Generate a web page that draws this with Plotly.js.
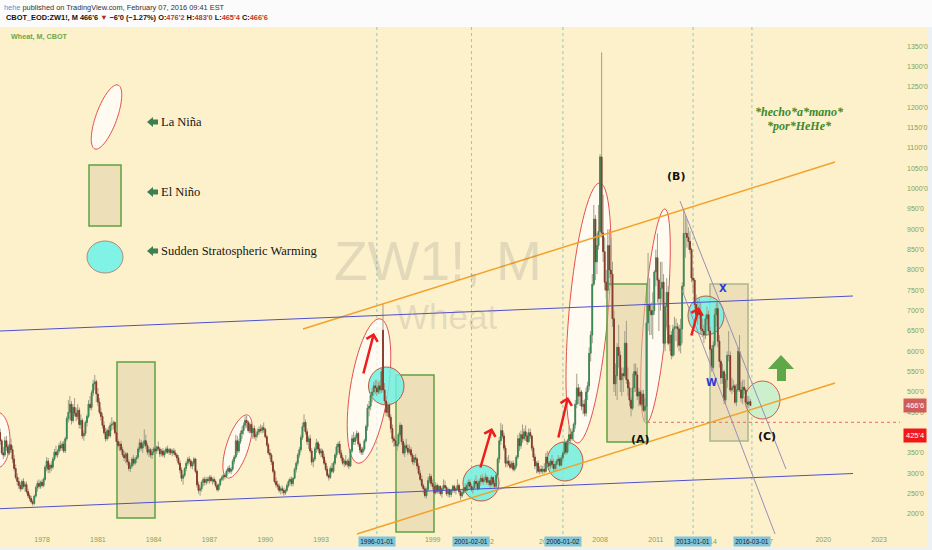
<!DOCTYPE html>
<html>
<head>
<meta charset="utf-8">
<script src="https://cdn.plot.ly/plotly-3.0.1.min.js"></script>
<style>
html,body{margin:0;padding:0;background:#fbfbfb;}
#chart{width:932px;height:550px;}
</style>
</head>
<body>
<div id="chart"></div>
<script>
// ---------------- DATA (monthly CBOT wheat, cents/bu) ----------------
const startYear = 1975;
const startMonth = 10;

const open = [
/*1975*/ 400,380,350,
/*1976*/ 345,380,365,350,370,358,335,312,290,280,270,262,
/*1977*/ 280,268,272,255,245,238,230,226,244,265,275,268,
/*1978*/ 278,270,285,315,330,310,320,315,335,352,345,355,
/*1979*/ 368,362,372,355,385,435,450,470,430,462,448,440,
/*1980*/ 455,420,430,392,398,425,440,470,462,498,520,525,
/*1981*/ 495,475,450,440,418,400,385,405,392,418,420,425,
/*1982*/ 400,378,368,372,358,345,338,348,328,312,318,335,
/*1983*/ 325,335,340,360,375,362,372,380,368,352,358,345,
/*1984*/ 352,360,355,365,360,348,355,345,352,360,352,358,
/*1985*/ 350,355,350,345,338,325,308,288,295,312,325,335,
/*1986*/ 330,318,325,335,305,272,258,262,278,285,278,285,
/*1987*/ 282,290,282,285,280,270,260,272,285,290,295,292,
/*1988*/ 305,312,305,310,330,340,380,355,378,398,405,418,
/*1989*/ 430,425,405,420,400,410,390,395,402,408,405,412,
/*1990*/ 408,390,370,350,345,328,305,280,272,268,258,262,
/*1991*/ 258,252,258,270,280,285,275,288,310,325,345,358,
/*1992*/ 388,415,425,402,378,385,355,328,335,360,375,360,
/*1993*/ 350,355,340,325,310,295,290,312,305,325,345,365,
/*1994*/ 372,350,338,325,330,322,330,318,355,385,378,388,
/*1995*/ 398,372,358,352,360,380,415,460,465,492,500,515,
/*1996*/ 510,500,515,505,652,505,478,450,468,438,410,385,
/*1997*/ 380,368,372,395,418,378,350,368,362,352,358,345,
/*1998*/ 328,338,335,318,300,285,270,262,245,260,282,292,
/*1999*/ 275,268,252,270,256,268,250,262,270,265,250,260,
/*2000*/ 248,258,268,258,262,270,255,245,252,265,258,270,
/*2001*/ 278,268,260,265,280,275,262,280,288,280,285,290,
/*2002*/ 278,282,272,290,275,268,295,335,380,405,392,362,
/*2003*/ 325,330,322,315,325,310,318,340,385,368,395,385,
/*2004*/ 402,392,378,400,392,362,340,318,325,305,310,305,
/*2005*/ 310,305,340,325,318,330,322,312,322,330,335,320,
/*2006*/ 338,350,375,352,380,395,385,402,420,470,510,490,
/*2007*/ 500,465,470,448,500,515,595,640,765,925,820,860,
/*2008*/ 895,1078,891,845,770,750,860,800,790,680,520,540,
/*2009*/ 610,590,530,545,540,620,530,510,480,460,510,550,
/*2010*/ 542,490,500,470,495,455,465,670,715,700,690,700,
/*2011*/ 795,830,775,730,755,770,620,710,745,620,640,590,
/*2012*/ 655,660,660,655,615,655,760,890,890,880,870,850,
/*2013*/ 780,775,715,690,700,690,655,650,640,680,690,650,
/*2014*/ 605,560,615,690,705,625,575,535,550,480,530,590,
/*2015*/ 590,505,510,515,475,505,600,505,485,512,505,475,
/*2016*/ 470,476.25
];
const high = [
/*1975*/ 410,385,365,
/*1976*/ 390,392,372,378,385,368,345,322,300,290,278,285,
/*1977*/ 288,278,280,262,252,245,236,248,270,282,285,282,
/*1978*/ 285,290,320,340,338,325,330,340,360,368,360,375,
/*1979*/ 380,378,380,390,440,480,490,478,470,485,462,470,
/*1980*/ 462,445,435,405,430,445,480,490,505,530,542,530,
/*1981*/ 510,485,462,448,428,412,410,415,425,438,430,428,
/*1982*/ 405,385,378,380,365,355,352,352,335,325,340,345,
/*1983*/ 340,345,365,385,382,378,408,395,375,365,362,360,
/*1984*/ 365,372,368,378,365,360,362,358,365,368,362,362,
/*1985*/ 360,362,358,350,345,332,315,300,315,330,340,342,
/*1986*/ 335,330,340,338,310,280,268,282,290,292,290,292,
/*1987*/ 295,296,290,292,285,275,275,288,295,300,300,310,
/*1988*/ 318,320,315,335,345,395,392,385,405,415,425,440,
/*1989*/ 442,430,425,428,415,418,405,410,415,420,418,425,
/*1990*/ 412,395,375,360,350,332,310,290,282,275,268,270,
/*1991*/ 265,262,275,285,290,292,290,315,330,350,365,395,
/*1992*/ 425,445,432,410,392,395,362,340,365,385,380,372,
/*1993*/ 362,360,348,332,318,300,318,325,330,350,372,378,
/*1994*/ 380,358,345,335,345,335,338,360,395,402,395,405,
/*1995*/ 402,378,365,365,385,420,470,478,500,510,525,530,
/*1996*/ 530,525,528,560,716,522,490,475,472,445,420,392,
/*1997*/ 392,378,400,425,420,385,375,385,372,370,365,350,
/*1998*/ 345,348,340,325,308,295,275,268,265,290,300,298,
/*1999*/ 285,272,278,275,272,270,265,285,282,270,265,262,
/*2000*/ 262,272,272,265,285,275,262,258,270,275,275,285,
/*2001*/ 285,275,270,285,295,282,285,295,298,292,300,295,
/*2002*/ 290,288,295,292,285,300,340,390,424,420,400,370,
/*2003*/ 340,345,332,330,332,325,345,395,400,405,420,410,
/*2004*/ 418,400,410,410,395,368,348,330,332,318,320,318,
/*2005*/ 325,350,355,330,335,345,335,330,335,345,340,345,
/*2006*/ 355,385,380,385,415,410,410,425,480,545,520,512,
/*2007*/ 505,480,482,510,525,610,650,790,960,935,890,960,
/*2008*/ 1085,1335,985,880,800,900,900,880,820,700,570,620,
/*2009*/ 665,600,560,560,650,675,560,525,488,545,570,570,
/*2010*/ 560,510,505,505,505,485,685,842,780,720,745,800,
/*2011*/ 850,890,780,820,820,790,720,780,760,665,650,665,
/*2012*/ 685,680,670,665,680,770,947,935,925,905,895,855,
/*2013*/ 805,780,740,725,730,720,680,665,690,710,700,660,
/*2014*/ 615,625,705,720,725,640,580,570,555,545,600,650,
/*2015*/ 600,535,530,520,520,610,640,525,530,530,510,490,
/*2016*/ 490,483
];
const low = [
/*1975*/ 370,345,335,
/*1976*/ 340,355,345,345,350,325,305,285,270,262,255,258,
/*1977*/ 262,255,250,240,232,226,220,222,240,255,262,262,
/*1978*/ 265,266,282,305,300,300,305,310,330,340,338,350,
/*1979*/ 355,355,350,350,380,425,430,420,425,440,428,432,
/*1980*/ 410,410,385,380,392,415,435,455,455,490,505,475,
/*1981*/ 465,445,430,410,395,378,380,385,388,405,408,395,
/*1982*/ 370,360,355,352,340,330,325,320,305,303,312,318,
/*1983*/ 320,325,335,352,355,350,365,360,345,340,338,335,
/*1984*/ 345,350,348,355,340,342,340,338,348,348,345,345,
/*1985*/ 342,345,340,330,320,300,280,272,290,305,318,322,
/*1986*/ 312,310,318,300,265,250,245,255,268,270,272,275,
/*1987*/ 275,278,272,275,265,255,256,268,280,282,285,290,
/*1988*/ 298,300,298,305,322,335,345,350,372,385,395,410,
/*1989*/ 412,400,398,395,385,385,380,388,395,400,398,400,
/*1990*/ 385,365,345,335,320,300,275,265,260,252,248,250,
/*1991*/ 245,247,255,265,270,268,268,285,302,318,338,352,
/*1992*/ 382,405,395,370,360,350,320,315,330,350,355,345,
/*1993*/ 340,335,320,305,290,282,286,300,300,320,338,350,
/*1994*/ 345,330,320,315,318,315,310,315,350,370,370,380,
/*1995*/ 365,350,345,345,355,375,405,440,455,475,490,495,
/*1996*/ 490,495,495,498,498,470,440,440,430,400,375,365,
/*1997*/ 360,355,365,388,370,345,340,355,345,348,340,322,
/*1998*/ 320,325,310,295,280,265,250,240,238,255,275,268,
/*1999*/ 260,245,248,250,250,245,240,258,260,245,242,240,
/*2000*/ 242,252,252,248,258,250,235,240,248,255,255,262,
/*2001*/ 262,255,250,262,270,258,260,270,275,272,278,272,
/*2002*/ 270,265,268,268,262,265,290,325,370,385,355,315,
/*2003*/ 315,318,310,312,305,305,312,335,355,360,375,380,
/*2004*/ 380,370,375,385,355,330,310,300,300,298,300,298,
/*2005*/ 300,302,320,310,310,315,305,305,310,320,315,318,
/*2006*/ 330,345,345,348,370,375,380,385,410,460,470,465,
/*2007*/ 455,445,440,440,480,505,575,620,760,775,790,850,
/*2008*/ 880,880,820,750,730,740,780,760,660,500,490,480,
/*2009*/ 560,500,490,500,535,520,490,465,440,455,500,500,
/*2010*/ 480,465,465,465,450,428,460,650,640,640,630,690,
/*2011*/ 760,720,650,700,720,600,600,660,615,600,580,585,
/*2012*/ 590,625,610,600,595,620,740,830,855,850,840,770,
/*2013*/ 745,705,680,665,680,645,635,620,630,665,640,595,
/*2014*/ 550,555,610,660,610,560,520,520,470,470,510,575,
/*2015*/ 500,495,500,470,465,500,500,475,470,495,465,460,
/*2016*/ 460,465.5
];
const close = [
/*1975*/ 380,350,345,
/*1976*/ 380,365,350,370,358,335,312,290,280,270,262,280,
/*1977*/ 268,272,255,245,238,230,226,244,265,275,268,278,
/*1978*/ 270,285,315,330,310,320,315,335,352,345,355,368,
/*1979*/ 362,372,355,385,435,450,470,430,462,448,440,455,
/*1980*/ 420,430,392,398,425,440,470,462,498,520,525,495,
/*1981*/ 475,450,440,418,400,385,405,392,418,420,425,400,
/*1982*/ 378,368,372,358,345,338,348,328,312,318,335,325,
/*1983*/ 335,340,360,375,362,372,380,368,352,358,345,352,
/*1984*/ 360,355,365,360,348,355,345,352,360,352,358,350,
/*1985*/ 355,350,345,338,325,308,288,295,312,325,335,330,
/*1986*/ 318,325,335,305,272,258,262,278,285,278,285,282,
/*1987*/ 290,282,285,280,270,260,272,285,290,295,292,305,
/*1988*/ 312,305,310,330,340,380,355,378,398,405,418,430,
/*1989*/ 425,405,420,400,410,390,395,402,408,405,412,408,
/*1990*/ 390,370,350,345,328,305,280,272,268,258,262,258,
/*1991*/ 252,258,270,280,285,275,288,310,325,345,358,388,
/*1992*/ 415,425,402,378,385,355,328,335,360,375,360,350,
/*1993*/ 355,340,325,310,295,290,312,305,325,345,365,372,
/*1994*/ 350,338,325,330,322,330,318,355,385,378,388,398,
/*1995*/ 372,358,352,360,380,415,460,465,492,500,515,510,
/*1996*/ 500,515,505,550,505,478,450,468,438,410,385,380,
/*1997*/ 368,372,395,418,378,350,368,362,352,358,345,328,
/*1998*/ 338,335,318,300,285,270,262,245,260,282,292,275,
/*1999*/ 268,252,270,256,268,250,262,270,265,250,260,248,
/*2000*/ 258,268,258,262,270,255,245,252,265,258,270,278,
/*2001*/ 268,260,265,280,275,262,280,288,280,285,290,278,
/*2002*/ 282,272,290,275,268,295,335,380,405,392,362,325,
/*2003*/ 330,322,315,325,310,318,340,385,368,395,385,402,
/*2004*/ 392,378,400,392,362,340,318,325,305,310,305,310,
/*2005*/ 305,340,325,318,330,322,312,322,330,335,320,338,
/*2006*/ 350,375,352,380,395,385,402,420,470,510,490,500,
/*2007*/ 465,470,448,500,515,595,640,765,925,820,860,895,
/*2008*/ 1078,891,845,770,750,860,800,790,680,520,540,610,
/*2009*/ 590,530,545,540,620,530,510,480,460,510,550,542,
/*2010*/ 490,500,470,495,455,465,670,715,700,690,700,795,
/*2011*/ 830,775,730,755,770,620,710,745,620,640,590,655,
/*2012*/ 660,660,655,615,655,760,890,890,880,870,850,780,
/*2013*/ 775,715,690,700,690,655,650,640,680,690,650,605,
/*2014*/ 560,615,690,705,625,575,535,550,480,530,590,590,
/*2015*/ 505,510,515,475,505,600,505,485,512,505,475,470,
/*2016*/ 476.25,466.75
];

// time-axis labels: full year labels, and the visible remnants of labels
// that sit under the highlighted date boxes
const xTickYears = [1978,1981,1984,1987,1990,1993,1999,2008,2011,2020,2023];
const partialTicks = [
  {year: 2002, text: '02', side: 'right'},
  {year: 2005, text: '20', side: 'left'},
  {year: 2014, text: '14', side: 'right'},
  {year: 2017, text: '7', side: 'right'}
];
const yTickPrices = [200,250,300,350,450,500,550,600,650,700,750,800,850,900,950,1000,1050,1100,1150,1200,1250,1300,1350];
const markerDates = ['1996-01-01','2001-02-01','2006-01-02','2013-01-01','2016-03-01'];
const legendLabels = ['La Niña','El Niño','Sudden Stratospheric Warming'];
const lastPrice = 466.75, lastLabel = "466'6";
const levelPrice = 425.5, levelLabel = "425'4";

// ---------------- build ----------------
const dates = close.map((_, i) => {
  const m0 = startMonth - 1 + i;
  const y = startYear + Math.floor(m0 / 12);
  const m = (m0 % 12) + 1;
  return y + '-' + String(m).padStart(2, '0') + '-01';
});
const bodyHigh = open.map((o, i) => Math.max(o, close[i]));
const bodyLow = open.map((o, i) => Math.min(o, close[i]));

const UP = '#3a8a58', DN = '#8a3a2a', WICK = '#a19d88';
const BG = '#fdf1cb';
const AXIS_TXT = '#7ea35f';

const wicks = {
  type: 'candlestick', x: dates, open: open, high: high, low: low, close: close,
  increasing: {line: {color: WICK, width: 1}, fillcolor: WICK},
  decreasing: {line: {color: WICK, width: 1}, fillcolor: WICK},
  whiskerwidth: 0, hoverinfo: 'skip', showlegend: false
};
const bodies = {
  type: 'candlestick', x: dates, open: open, high: bodyHigh, low: bodyLow, close: close,
  increasing: {line: {color: UP, width: 1}, fillcolor: UP},
  decreasing: {line: {color: DN, width: 1}, fillcolor: DN},
  whiskerwidth: 0, hoverinfo: 'skip', showlegend: false
};

// pixel -> paper helpers for the hand-drawn overlay
const PW = 900, PB = 534, PH = 507;
const X = px => px / PW;
const Y = py => (PB - py) / PH;
// date position (for text near year ticks): 18.6 px per year, 1978 at 42 px
const yearPx = yr => 42 + (yr - 1978) * 18.6;

function ellipsePath(cx, cy, a, b, deg) {
  const t = deg * Math.PI / 180, s = Math.sin(t), c = Math.cos(t);
  let d = '';
  for (let k = 0; k <= 60; k++) {
    const th = k / 60 * 2 * Math.PI;
    const u = b * Math.cos(th), v = a * Math.sin(th);
    const x = cx + u * c + v * s, y = cy + u * s - v * c;
    d += (k ? 'L' : 'M') + X(x).toFixed(5) + ',' + Y(y).toFixed(5);
  }
  return d + 'Z';
}
function polyPath(pts) {
  return pts.map((p, i) => (i ? 'L' : 'M') + X(p[0]).toFixed(5) + ',' + Y(p[1]).toFixed(5)).join('') + 'Z';
}
function leftArrow(yc) {
  return polyPath([[147, yc], [153, yc - 5], [153, yc - 2.5], [158, yc - 2.5], [158, yc + 2.5], [153, yc + 2.5], [153, yc + 5]]);
}

const shapes = [];
// frame pieces
shapes.push({type: 'rect', xref: 'paper', yref: 'paper', x0: -0.01, x1: 1.05, y0: 1, y1: 1.06, fillcolor: '#fbfbfb', line: {width: 0}, layer: 'below'});
shapes.push({type: 'rect', xref: 'paper', yref: 'paper', x0: -0.01, x1: 1.05, y0: Y(547.5), y1: Y(552), fillcolor: '#eef1f4', line: {width: 0}, layer: 'below'});
shapes.push({type: 'rect', xref: 'paper', yref: 'paper', x0: X(928), x1: 1.05, y0: Y(552), y1: 1, fillcolor: '#eef1f4', line: {width: 0}, layer: 'below'});

// vertical marker lines
markerDates.forEach(d => shapes.push({type: 'line', xref: 'x', yref: 'paper', x0: d, x1: d, y0: 0, y1: 1, line: {color: '#84ccd6', width: 1, dash: 'dot'}, layer: 'below'}));

// La Niña ellipses
const NINA_FILL = 'rgba(255,255,255,0.72)', NINA_LINE = '#e2524f';
[[106.5, 117, 34, 10.5, 20], [-3, 440, 28, 13, 0], [237.5, 446.5, 33, 11, 18], [369, 391, 73, 19, 8.7], [588.5, 313, 130.5, 19.5, 5], [655.5, 316, 107.5, 11.5, 5]]
  .forEach(e => shapes.push({type: 'path', xref: 'paper', yref: 'paper', path: ellipsePath(...e), fillcolor: NINA_FILL, line: {color: NINA_LINE, width: 1}, layer: 'below'}));

// El Niño boxes
[[89, 165, 121, 226, '#5da040'], [117, 362, 155, 518, '#5da040'], [396, 375, 434, 532, '#5da040'], [607, 284, 647, 442, '#5da040'], [710, 284, 748, 441, '#a9b58d']]
  .forEach(r => shapes.push({type: 'rect', xref: 'paper', yref: 'paper', x0: X(r[0]), x1: X(r[2]), y0: Y(r[3]), y1: Y(r[1]), fillcolor: 'rgba(222,208,165,0.5)', line: {color: r[4], width: 1.5}, layer: 'below'}));

// SSW circles
const SSW_FILL = 'rgba(112,240,228,0.85)', SSW_LINE = '#c0563f';
shapes.push({type: 'circle', xref: 'paper', yref: 'paper', x0: X(87), x1: X(123), y0: Y(273), y1: Y(241), fillcolor: '#80f3e6', line: {color: '#b08a78', width: 1}, layer: 'below'});
[[368.5, 367, 404, 405], [463, 465, 499, 501], [547, 442, 583, 481], [688, 296, 724, 335]]
  .forEach(c => shapes.push({type: 'circle', xref: 'paper', yref: 'paper', x0: X(c[0]), x1: X(c[2]), y0: Y(c[3]), y1: Y(c[1]), fillcolor: SSW_FILL, line: {color: SSW_LINE, width: 1}, layer: 'below'}));
shapes.push({type: 'circle', xref: 'paper', yref: 'paper', x0: X(745), x1: X(780), y0: Y(419), y1: Y(381), fillcolor: 'rgba(196,240,204,0.85)', line: {color: '#d05a48', width: 1}, layer: 'below'});

// trend lines
function seg(x0, y0, x1, y1, color, width, dash) {
  shapes.push({type: 'line', xref: 'paper', yref: 'paper', x0: X(x0), y0: Y(y0), x1: X(x1), y1: Y(y1), line: {color: color, width: width, dash: dash || 'solid'}, layer: 'above'});
}
seg(303, 329, 835, 162, '#f3a128', 1.5);
seg(357, 534, 835, 383, '#f3a128', 1.5);
seg(0, 331, 853, 296, '#4f4fd0', 1);
seg(0, 508.7, 853, 473.5, '#4f4fd0', 1);
seg(680, 201, 786, 469, '#9a8db8', 1);
seg(682, 290, 775, 534, '#9a8db8', 1);
shapes.push({type: 'line', xref: 'paper', yref: 'y', x0: X(647), x1: 1, y0: levelPrice, y1: levelPrice, line: {color: '#e06a66', width: 1, dash: 'dot'}, layer: 'above'});

// legend arrows and green up arrow
[122, 192, 251].forEach(yc => shapes.push({type: 'path', xref: 'paper', yref: 'paper', path: leftArrow(yc), fillcolor: '#3d7f50', line: {width: 0}, layer: 'above'}));
shapes.push({type: 'path', xref: 'paper', yref: 'paper', path: polyPath([[781, 355], [794, 369], [786, 369], [786, 381], [777, 381], [777, 369], [768, 369]]), fillcolor: '#5fa84a', line: {width: 0}, layer: 'above'});

// annotations
const ann = [];
function txt(text, px, py, opts) {
  ann.push(Object.assign({text: text, xref: 'paper', yref: 'paper', x: X(px), y: Y(py), showarrow: false, xanchor: 'center', yanchor: 'middle'}, opts || {}));
}
const RED = '#c0392b';
txt('<span style="color:#3d9ad8">hehe</span> published on TradingView.com, February 07, 2016 09:41 EST', 2, 7,
  {xanchor: 'left', font: {family: 'Liberation Sans', size: 7.4, color: '#333'}});
txt("<b>CBOT_EOD:ZW1!, M 466'6 <span style=\"color:#b3241c\">▼</span> −6'0 (−1.27%) O:<span style=\"color:" + RED + "\">476'2</span> H:<span style=\"color:" + RED + "\">483'0</span> L:<span style=\"color:" + RED + "\">465'4</span> C:<span style=\"color:" + RED + "\">466'6</span></b>", 4, 17.5,
  {xanchor: 'left', font: {family: 'Liberation Sans', size: 7.4, color: '#111'}});
txt('<b>Wheat, M, CBOT</b>', 9, 37, {xanchor: 'left', font: {family: 'Liberation Sans', size: 7.2, color: '#6aa84f'}});

// watermark
txt('ZW1!, M', 438, 261, {font: {family: 'Liberation Sans', size: 55, color: 'rgba(120,120,120,0.2)'}});
txt('Wheat', 446, 316, {font: {family: 'Liberation Sans', size: 35, color: 'rgba(120,120,120,0.2)'}});

// legend labels
[122, 192, 251].forEach((yc, i) => txt(legendLabels[i], 159, yc, {xanchor: 'left', font: {family: 'Liberation Serif', size: 12.5, color: '#151515'}}));

// wave labels
const waveFont = {family: 'DejaVu Sans', size: 11, color: '#111'};
txt('<b>(B)</b>', 676, 177, {font: waveFont});
txt('<b>(A)</b>', 640, 440, {font: waveFont});
txt('<b>(C)</b>', 767, 436, {font: waveFont});
txt('<b>X</b>', 723, 288, {font: {family: 'DejaVu Sans', size: 10, color: '#2b3bd6'}});
txt('<b>W</b>', 711, 382, {font: {family: 'DejaVu Sans', size: 10, color: '#2b3bd6'}});
txt('<b><i>*hecho*a*mano*</i></b>', 799, 112, {font: {family: 'Liberation Serif', size: 12, color: '#3b8a2e'}});
txt('<b><i>*por*HeHe*</i></b>', 799, 126, {font: {family: 'Liberation Serif', size: 12, color: '#3b8a2e'}});

// red arrows
[[363, 375, 374, 333], [480, 469, 492, 428], [558, 439, 568, 397], [691, 337, 699, 307]].forEach(a => ann.push({
  text: '', xref: 'paper', yref: 'paper', x: X(a[2]), y: Y(a[3]), ax: a[0] - a[2], ay: a[1] - a[3],
  showarrow: true, arrowhead: 4, arrowsize: 0.9, arrowwidth: 2.5, arrowcolor: '#ee1c1c', standoff: 0, startstandoff: 0
}));

// price axis labels
ann.push({text: lastLabel, xref: 'paper', yref: 'y', x: X(903), y: lastPrice, xanchor: 'left', yanchor: 'middle', showarrow: false,
  bgcolor: '#d05c58', borderpad: 2, font: {family: 'Liberation Sans', size: 7.5, color: '#fff'}});
ann.push({text: levelLabel, xref: 'paper', yref: 'paper', x: X(903), y: Y(435), xanchor: 'left', yanchor: 'middle', showarrow: false,
  bgcolor: '#f01818', borderpad: 2, font: {family: 'Liberation Sans', size: 7.5, color: '#fff'}});

// partial year labels peeking out beside the date boxes
partialTicks.forEach(p => {
  const edge = yearPx(p.year) + (p.side === 'right' ? 7.2 : -7.2);
  txt(p.text, edge, 541, {xanchor: p.side === 'right' ? 'right' : 'left', font: {family: 'Liberation Sans', size: 7, color: AXIS_TXT}});
});

// highlighted date labels on time axis
markerDates.forEach(d => ann.push({text: d, xref: 'x', yref: 'paper', x: d, y: Y(541), xanchor: 'center', yanchor: 'middle', showarrow: false,
  bgcolor: '#82c4d9', borderpad: 1.2, font: {family: 'Liberation Sans', size: 6.5, color: '#0e1c2a'}}));

const layout = {
  width: 932, height: 550,
  margin: {l: 0, r: 32, t: 27, b: 16, pad: 0},
  paper_bgcolor: BG, plot_bgcolor: BG,
  showlegend: false, hovermode: false, dragmode: false,
  xaxis: {
    type: 'date', range: ['1975-09-28', '2024-02-16'],
    rangeslider: {visible: false},
    tickvals: xTickYears.map(y => y + '-01-01'), ticktext: xTickYears.map(String),
    tickfont: {family: 'Liberation Sans', size: 7, color: AXIS_TXT},
    showgrid: false, zeroline: false, showline: false, ticks: '', fixedrange: true
  },
  yaxis: {
    side: 'right', range: [150.8, 1397.5],
    tickvals: yTickPrices, ticktext: yTickPrices.map(v => v + "'0"),
    tickfont: {family: 'Liberation Sans', size: 7, color: AXIS_TXT},
    showgrid: false, zeroline: false, showline: false, ticks: '', ticklabelstandoff: 6, fixedrange: true
  },
  shapes: shapes,
  annotations: ann
};

Plotly.newPlot('chart', [wicks, bodies], layout, {displayModeBar: false, staticPlot: true});
</script>
</body>
</html>
